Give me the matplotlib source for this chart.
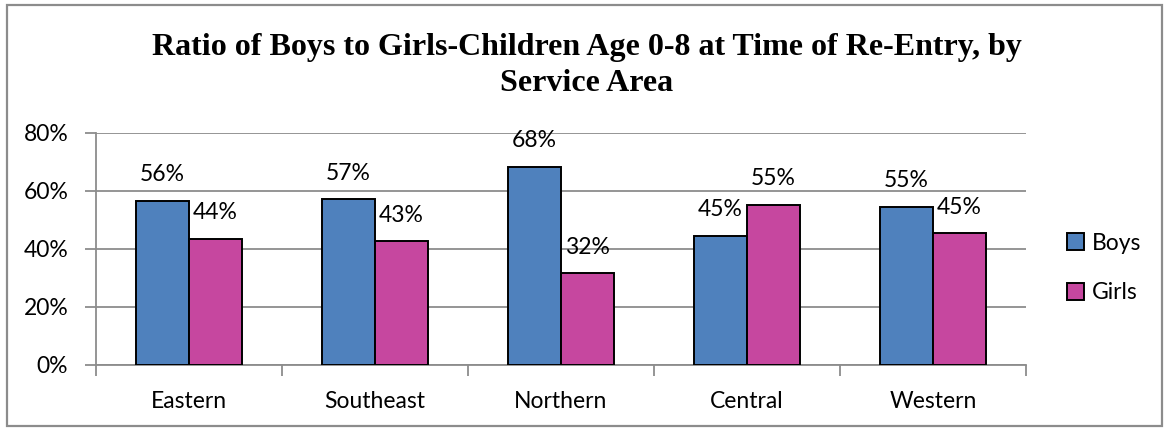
import numpy as np
import matplotlib.pyplot as plt
from matplotlib.patches import Rectangle
from matplotlib.ticker import PercentFormatter

# Data
areas = ['Eastern', 'Southeast', 'Northern', 'Central', 'Western']
boys = [56.7, 57.3, 68.4, 44.6, 54.6]
girls = [43.6, 42.8, 31.7, 55.3, 45.5]
boys_lbl = ['56%', '57%', '68%', '45%', '55%']
girls_lbl = ['44%', '43%', '32%', '55%', '45%']

blue = '#4F81BD'
pink = '#C6479F'
grid_c = '#8C8C8C'

plt.rcParams['font.family'] = ['Lato', 'DejaVu Sans']
fs = 16.5

fig = plt.figure(figsize=(11.67, 4.28), dpi=100)
ax = fig.add_axes([0.0823, 0.1472, 0.7969, 0.5421])

x = np.arange(len(areas))
w = 0.285
b1 = ax.bar(x - w/2, boys, w, color=blue, edgecolor='black', linewidth=1.4, label='Boys', zorder=3)
b2 = ax.bar(x + w/2, girls, w, color=pink, edgecolor='black', linewidth=1.4, label='Girls', zorder=3)

for bars, labels in [(b1, boys_lbl), (b2, girls_lbl)]:
    for r, t in zip(bars, labels):
        ax.annotate(t, (r.get_x() + r.get_width()/2, r.get_height()), xytext=(0, 18.5),
                    textcoords='offset points', ha='center', va='center', fontsize=fs)

ax.set_xlim(-0.5, len(areas) - 0.5)
ax.set_ylim(0, 80)
ax.set_yticks([0, 20, 40, 60, 80])
ax.yaxis.set_major_formatter(PercentFormatter(decimals=0))
ax.set_xticks(x)
ax.set_xticklabels(areas)
ax.set_xticks(np.arange(-0.5, len(areas)), minor=True)
ax.tick_params(axis='x', which='major', length=0, pad=19, labelsize=fs)
ax.tick_params(axis='x', which='minor', length=8, color=grid_c, width=1.3)
ax.tick_params(axis='y', length=8, color=grid_c, width=1.3, labelsize=fs, pad=12)

ax.grid(axis='y', color=grid_c, linewidth=1.3, zorder=0)
for s in ['top', 'right']:
    ax.spines[s].set_visible(False)
for s in ['left', 'bottom']:
    ax.spines[s].set_color(grid_c)
    ax.spines[s].set_linewidth(1.3)

ax.legend(loc='center left', bbox_to_anchor=(1.034, 0.418), frameon=False, fontsize=fs,
          handlelength=0.75, handleheight=0.75, handletextpad=0.35, labelspacing=1.25,
          borderaxespad=0)

fig.text(0.5026, 0.848, 'Ratio of Boys to Girls-Children Age 0-8 at Time of Re-Entry, by\nService Area',
         ha='center', va='center', fontsize=23, fontweight='bold',
         family=['Liberation Serif'], linespacing=1.32)

fig.patches.append(Rectangle((0.006, 0.004), 0.99, 0.984, transform=fig.transFigure,
                             fill=False, edgecolor='#8C8C8C', linewidth=1.6))

fig.savefig('out.png', dpi=100)
